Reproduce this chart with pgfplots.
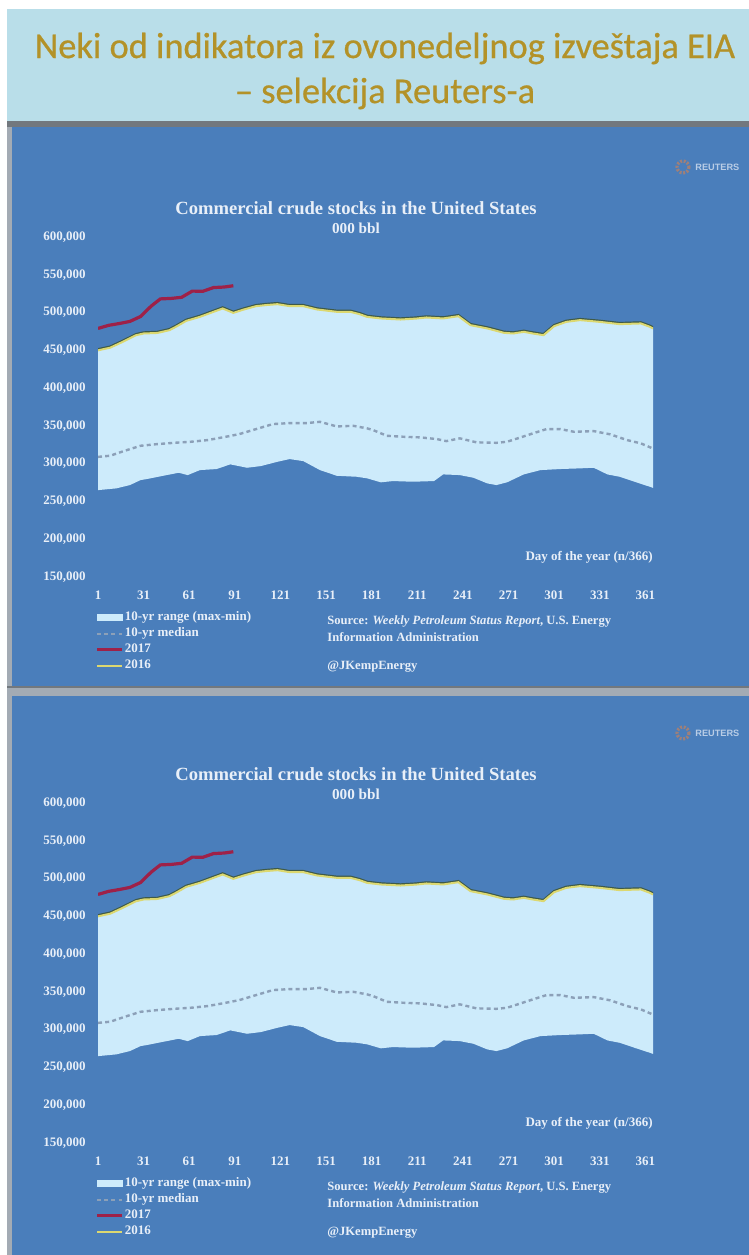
\documentclass[border=0pt]{standalone}
\usepackage{pgfplots}
\pgfplotsset{compat=1.18}
\usepgfplotslibrary{fillbetween}
\usepackage{pgfplotstable}
\usepackage{fontspec}
\setmainfont{Liberation Serif}
\newfontfamily\titlefont[FakeBold=0.6]{Carlito}
\newfontfamily\logofont{Liberation Sans}

\definecolor{panelblue}{HTML}{4A7EBB}
\definecolor{rangeblue}{HTML}{CDEBFB}
\definecolor{medgray}{HTML}{8CA0B8}
\definecolor{red17}{HTML}{9E2148}
\definecolor{yel16}{HTML}{DCD870}
\definecolor{shadow16}{HTML}{3E5A48}
\definecolor{bandblue}{HTML}{B9DEE9}
\definecolor{goldtxt}{HTML}{B39228}
\definecolor{labelwhite}{HTML}{E8EFF8}
\definecolor{sepgray}{HTML}{A3ABB4}
\definecolor{logoorange}{HTML}{D9824E}

\pgfplotstableread{
day val
1 450000
9 453500
17 461000
26 470000
31 472300
40 473000
48 476700
53 482000
59 489000
68 494300
77 501000
83 505400
90 499600
97 504100
105 508500
112 510000
119 511100
127 508500
136 508500
145 504100
158 501000
167 501000
173 497900
178 494300
187 492200
200 490800
210 492000
217 493500
228 492200
238 495200
246 483300
257 479000
268 473200
274 472300
281 474500
287 472300
294 470100
301 482000
309 487700
318 490000
331 487700
344 484700
358 485600
364 481100
366 479000
}\maxtab

\pgfplotstableread{
day val
1 265000
13 267300
22 271700
29 278300
33 279600
44 284000
54 288000
60 284900
68 291500
79 292900
88 299100
99 294600
108 296800
119 302500
127 306100
136 303400
147 291500
158 284000
171 282700
178 280600
187 275300
195 277000
208 276100
222 277000
228 285800
239 284900
248 281300
257 273900
263 271700
270 275300
281 285800
292 291500
305 292900
318 293800
327 294600
336 285800
344 282700
355 275300
364 269400
366 268000
}\mintab

\pgfplotstableread{
day val
1 309000
9 310500
18 316700
29 323700
40 325900
51 327600
62 329000
73 331200
84 335200
94 339200
105 345800
116 352400
127 353700
138 353700
147 355400
158 349300
169 350100
178 346700
182 344400
191 336900
202 335600
213 334800
224 332500
230 329900
239 333500
250 328200
263 327600
270 329000
279 334800
287 340100
296 345800
305 345800
314 342200
327 343100
338 338800
349 331200
358 326900
366 320000
}\medtab

\pgfplotstableread{
day val
1 479000
8 483100
15 485500
22 488300
29 494800
36 508600
42 518100
49 518700
56 520200
63 528400
70 528200
77 533100
84 533800
90 535500
}\seventeen

\newcommand{\lbl}{\bfseries\fontsize{6.5}{7}\selectfont}

\pgfplotsset{
  panelaxis/.style={
    anchor=south west,
    scale only axis, width=277.5pt, height=170pt,
    xmin=1, xmax=366, ymin=150000, ymax=600000,
    axis line style={draw=none}, major tick length=0pt,
    scaled y ticks=false, scaled x ticks=false,
    fill between/on layer=main,
    xtick={1,31,61,91,121,151,181,211,241,271,301,331,361},
    xticklabels={1,31,61,91,121,151,181,211,241,271,301,331,361},
    ytick={150000,200000,250000,300000,350000,400000,450000,500000,550000,600000},
    yticklabels={{150,000},{200,000},{250,000},{300,000},{350,000},{400,000},{450,000},{500,000},{550,000},{600,000}},
    xticklabel style={font=\lbl,text=labelwhite,yshift=-3.4pt},
    yticklabel style={font=\lbl,text=labelwhite,xshift=-2.6pt},
    legend style={at={(-0.0054,-0.095)}, anchor=north west, draw=none, fill=none,
      inner sep=0pt, font=\lbl, text=labelwhite, row sep=0pt,
      nodes={inner xsep=0.6pt, inner ysep=0.8pt, text height=4.7pt, text depth=1.7pt}},
    legend cell align=left,
    legend image code/.code={\draw[#1] (0pt,0pt) -- (12.5pt,0pt);},
  },
  rangelegend/.style={
    legend image code/.code={\fill[rangeblue] (0pt,-1.5pt) rectangle (12.5pt,1.5pt);}
  },
}

\newcommand{\chartpanel}[1]{%
  \begin{scope}[x=0.5pt,y=-0.5pt,yshift=-#1pt]
    \node[text=labelwhite,font=\bfseries\fontsize{9.3}{10}\selectfont] at (356,208) {Commercial crude stocks in the United States};
    \node[text=labelwhite,font=\bfseries\fontsize{7.6}{9}\selectfont] at (356,228) {000 bbl};
    \node[text=labelwhite,font=\lbl,anchor=east,inner sep=0pt] at (653,557) {Day of the year (n/366)};
    \node[text=labelwhite,font=\bfseries\fontsize{6.3}{7}\selectfont,anchor=west,inner sep=0pt] at (327,622) {Source: \textit{Weekly Petroleum Status Report}, U.S. Energy};
    \node[text=labelwhite,font=\bfseries\fontsize{6.3}{7}\selectfont,anchor=west,inner sep=0pt] at (327,637) {Information Administration};
    \node[text=labelwhite,font=\bfseries\fontsize{6.3}{7}\selectfont,anchor=west,inner sep=0pt] at (327,667) {@JKempEnergy};
    \draw[logoorange,opacity=0.6,line width=1.6pt,dash pattern=on 1pt off 0.8pt] (683,167) circle (6);
    \node[text=labelwhite!70!panelblue,font=\logofont\bfseries\fontsize{4.6}{5}\selectfont,anchor=west,inner sep=0pt] at (695,167) {REUTERS};
  \end{scope}
  \begin{axis}[panelaxis, at={(49pt,{-288.5pt-#1pt})}]
    \addlegendimage{rangelegend}
    \addlegendentry{10-yr range (max-min)}
    \addlegendimage{medgray, line width=1.2pt, dash pattern=on 2pt off 1.6pt}
    \addlegendentry{10-yr median}
    \addlegendimage{red17, line width=1.6pt}
    \addlegendentry{2017}
    \addlegendimage{yel16, line width=1pt}
    \addlegendentry{2016}
    \addplot[name path=maxp, draw=none, forget plot] table[x=day,y=val] {\maxtab};
    \addplot[name path=minp, draw=none, forget plot] table[x=day,y=val] {\mintab};
    \addplot[rangeblue, forget plot] fill between[of=maxp and minp];
    \addplot[medgray, line width=1.2pt, dash pattern=on 2pt off 1.6pt, forget plot] table[x=day,y=val] {\medtab};
    \addplot[red17, line width=1.6pt, forget plot] table[x=day,y=val] {\seventeen};
    \addplot[shadow16, line width=1.2pt, forget plot, yshift=0.5pt] table[x=day,y=val] {\maxtab};
    \addplot[yel16, line width=1pt, forget plot] table[x=day,y=val] {\maxtab};
  \end{axis}%
}

\begin{document}
\begin{tikzpicture}
  \begin{scope}[x=0.5pt,y=-0.5pt]
    \useasboundingbox (0,0) rectangle (749,1255);
    \fill[white] (0,0) rectangle (749,1255);
    \fill[bandblue] (7,9) rectangle (749,121);
    \fill[sepgray!70!black] (7,121) rectangle (749,127);
    \fill[sepgray] (7,127) rectangle (12,1255);
    \fill[panelblue] (12,127) rectangle (749,686);
    \fill[sepgray] (7,686) rectangle (749,696);
    \fill[sepgray!70!black] (7,686) rectangle (749,688);
    \fill[panelblue] (12,696) rectangle (749,1255);
    \node[text=goldtxt,font=\titlefont\fontsize{18.2}{22.5}\selectfont,align=center] at (385,71)
      {Neki od indikatora iz ovonedeljnog izveštaja EIA\\– selekcija Reuters-a};
  \end{scope}
  \chartpanel{0}
  \chartpanel{283}
\end{tikzpicture}
\end{document}
